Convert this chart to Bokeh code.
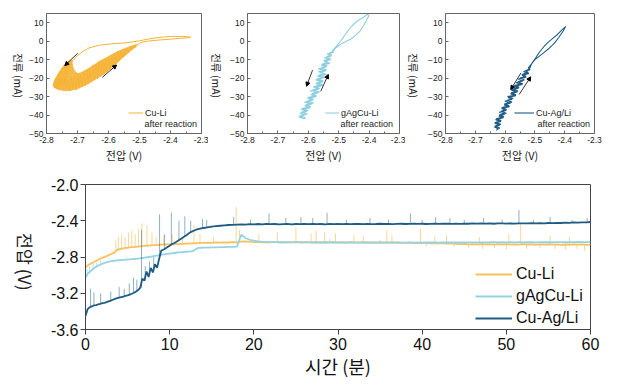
import numpy as np
from bokeh.plotting import figure
from bokeh.models import (Range1d, Label, Legend, LegendItem, Arrow, NormalHead,
                          FixedTicker, PrintfTickFormatter)
from bokeh.layouts import column, row
from bokeh.embed import file_html
from bokeh.resources import INLINE

NUM_FONT = "Liberation Sans"
KR_FONT = "Noto Sans CJK KR"

# ---------------- top panels: current vs voltage (after reaction) ----------------
cv_xticks = [-2.8, -2.7, -2.6, -2.5, -2.4, -2.3]
cv_xminor = [-2.75, -2.65, -2.55, -2.45, -2.35]
cv_yticks = [-50, -40, -30, -20, -10, 0, 10]

cu_li_v = [-2.335, -2.36, -2.40, -2.44, -2.47, -2.50, -2.54, -2.59, -2.63, -2.66, -2.68, -2.70, -2.715,
           -2.735, -2.716, -2.745, -2.72, -2.752, -2.722, -2.758, -2.726, -2.765, -2.73, -2.77, -2.735, -2.775, -2.745, -2.778, -2.76,
           -2.775, -2.77, -2.765, -2.76, -2.755, -2.75, -2.745, -2.74, -2.735, -2.73, -2.725, -2.72, -2.715, -2.71, -2.705, -2.70,
           -2.695, -2.69, -2.685, -2.68, -2.675, -2.67, -2.665, -2.66, -2.655, -2.65, -2.645, -2.64, -2.635, -2.63, -2.625, -2.62,
           -2.615, -2.61, -2.605, -2.60, -2.595, -2.59, -2.585, -2.58, -2.575, -2.57, -2.565, -2.56, -2.555, -2.55, -2.545, -2.54,
           -2.535, -2.53, -2.525, -2.52, -2.515, -2.51,
           -2.50, -2.49, -2.47, -2.44, -2.40, -2.37, -2.345, -2.335]
cu_li_i = [2.2, 2.6, 2.6, 2.0, 1.2, 0.2, -0.8, -1.4, -2.2, -3.5, -5.2, -7.8, -10.5,
           -11.5, -12.5, -13.5, -14.2, -15, -16, -16.8, -17.5, -18.5, -19.2, -20.5, -21, -22.5, -22.8, -24.2, -24.5,
           -25.2, -20, -26, -19, -25.5, -20.5, -26.5, -19.5, -26, -21, -26.8, -19.5, -25.8, -18.5, -26.3, -17.5,
           -25.2, -17.8, -24.6, -16.2, -24, -15.4, -23, -14.5, -22.2, -13.2, -21, -12.4, -20.2, -11, -19, -10.2,
           -18, -9.2, -16.8, -8.4, -15.2, -7.5, -13.8, -6.4, -12.2, -5.6, -10.6, -4.9, -9, -4.2, -7.6, -3.6,
           -6.2, -3.0, -4.8, -2.4, -3.6, -2.2,
           -1.2, -0.5, 0.1, 0.6, 1.1, 1.5, 1.9, 2.2]

# outline of the dense noisy region of the Cu-Li loop
cu_li_band_v = [-2.778, -2.77, -2.76, -2.75, -2.74, -2.73, -2.72, -2.71, -2.70, -2.69, -2.68, -2.67, -2.66, -2.65,
                -2.64, -2.63, -2.62, -2.61, -2.60, -2.59, -2.58, -2.57, -2.56, -2.55, -2.54, -2.53, -2.52, -2.51,
                -2.51, -2.52, -2.53, -2.54, -2.55, -2.56, -2.57, -2.58, -2.59, -2.60, -2.61, -2.62, -2.63, -2.64,
                -2.65, -2.66, -2.67, -2.68, -2.69, -2.70, -2.71, -2.715, -2.718, -2.716,
                -2.728, -2.74, -2.75, -2.758, -2.765, -2.772, -2.777]
cu_li_band_i = [-24.5, -25.5, -26.3, -26.5, -26.8, -26.8, -26.6, -26.2, -25.8, -25, -24.2, -23.4, -22.5, -21.4,
                -20.4, -19.4, -18.4, -17.2, -15.8, -14.4, -12.9, -11.4, -9.8, -8.3, -6.8, -5.3, -4.0, -2.8,
                -1.8, -2.3, -2.9, -3.5, -4.2, -4.9, -5.6, -6.4, -7.4, -8.3, -9.2, -10.1, -11, -12.2,
                -13.2, -14.4, -15.4, -16.3, -17.2, -17.6, -16, -14, -12, -10.5,
                -10.8, -12.5, -14.5, -16.5, -18.5, -20.5, -22.5]

gag_v = [-2.40, -2.405, -2.42, -2.44, -2.455, -2.468, -2.48, -2.492, -2.505, -2.515, -2.52,
         -2.517, -2.538, -2.524, -2.547, -2.527, -2.548, -2.529, -2.558, -2.541, -2.567, -2.542, -2.563, -2.540, -2.570,
         -2.552, -2.576, -2.551, -2.575, -2.551, -2.582, -2.565, -2.595, -2.568, -2.592, -2.573, -2.602, -2.585, -2.612,
         -2.588, -2.612, -2.593, -2.623, -2.604, -2.628, -2.610, -2.631, -2.614,
         -2.609, -2.629, -2.603, -2.624, -2.601, -2.622, -2.592, -2.609, -2.582, -2.605, -2.582, -2.602, -2.573, -2.589,
         -2.562, -2.587, -2.562, -2.583, -2.553, -2.573, -2.551, -2.573, -2.543, -2.567, -2.546, -2.567, -2.540, -2.559,
         -2.538, -2.556, -2.534, -2.549, -2.527, -2.540, -2.523, -2.531, -2.519,
         -2.512, -2.505, -2.49, -2.475, -2.46, -2.445, -2.43, -2.418, -2.408, -2.40]
gag_i = [14, 14.5, 12.8, 10.8, 8.5, 6, 3.2, 0.5, -2.2, -4, -5,
         -6, -7, -8, -9, -10, -11, -12, -13, -14, -15, -16, -17, -18, -19,
         -20, -21, -22, -23, -24, -25, -26, -27, -28, -29, -30, -31, -32, -33,
         -34, -35, -36, -37, -38, -39, -40, -41, -42,
         -41.5, -40.5, -39.5, -38.5, -37.5, -36.5, -35.5, -34.5, -33.5, -32.5, -31.5, -30.5, -29.5, -28.5,
         -27.5, -26.5, -25.5, -24.5, -23.5, -22.5, -21.5, -20.5, -19.5, -18.5, -17.5, -16.5, -15.5, -14.5,
         -13.5, -12.5, -11.5, -10.5, -9.5, -8.5, -7.5, -6.5, -5.5,
         -4.0, -3, -1.2, 0, 1.2, 3, 5.5, 8.5, 11.5, 14]

cuag_v = [-2.397, -2.41, -2.425, -2.44, -2.455, -2.47, -2.485, -2.497, -2.51, -2.522,
          -2.516, -2.538, -2.520, -2.543, -2.529, -2.556, -2.541, -2.563, -2.542, -2.569, -2.555, -2.579, -2.559, -2.582,
          -2.564, -2.590, -2.577, -2.601, -2.581, -2.603, -2.585, -2.612, -2.596, -2.620, -2.600, -2.621, -2.606, -2.632,
          -2.614, -2.635, -2.618, -2.636, -2.622, -2.630,
          -2.618, -2.634, -2.614, -2.634, -2.613, -2.630, -2.604, -2.620, -2.596, -2.614, -2.595, -2.611, -2.586, -2.603,
          -2.577, -2.593, -2.573, -2.592, -2.564, -2.580, -2.557, -2.575, -2.553, -2.569, -2.541, -2.558, -2.535, -2.550,
          -2.530, -2.544, -2.522, -2.532, -2.518,
          -2.512, -2.50, -2.488, -2.47, -2.452, -2.435, -2.42, -2.405, -2.397]
cuag_i = [7.9, 6, 3.5, 1.5, -0.5, -3, -6, -9, -12, -14.5,
          -15.5, -16.5, -17.5, -18.5, -19.5, -20.5, -21.5, -22.5, -23.5, -24.5, -25.5, -26.5, -27.5, -28.5,
          -29.5, -30.5, -31.5, -32.5, -33.5, -34.5, -35.5, -36.5, -37.5, -38.5, -39.5, -40.5, -41.5, -42.5,
          -43.5, -44.5, -45.5, -46.5, -47.5, -48.3,
          -47, -46, -45, -44, -43, -42, -41, -40, -39, -38, -37, -36, -35, -34,
          -33, -32, -31, -30, -29, -28, -27, -26, -25, -24, -23, -22, -21, -20,
          -19, -18, -17, -16, -15,
          -12.5, -10, -8.5, -6.2, -3.8, -1.2, 2, 5.5, 7.9]

# scan-direction arrows: (x_start, y_start, x_end, y_end)
arrows_cu_li = [(-2.699, -6.5, -2.741, -13.2), (-2.620, -19.6, -2.574, -12.9)]
arrows_gag = [(-2.586, -15.7, -2.606, -24.4), (-2.559, -27.1, -2.534, -18.0)]
arrows_cuag = [(-2.547, -17.2, -2.581, -26.2), (-2.553, -28.9, -2.514, -19.3)]

# ---------------- bottom panel: voltage vs time ----------------
time_min = np.concatenate([np.arange(0, 14, 0.25), np.arange(14, 60.01, 0.5)])

v_cu_li = [-2.915, -2.895, -2.88, -2.868, -2.855, -2.845, -2.83, -2.818, -2.81, -2.798, -2.79, -2.78, -2.77, -2.76, -2.745, -2.72,
           -2.715, -2.71, -2.705, -2.70, -2.70, -2.695, -2.69, -2.692, -2.688, -2.685, -2.683, -2.68, -2.678, -2.676, -2.675, -2.672,
           -2.670, -2.668, -2.668, -2.665, -2.663, -2.66, -2.662, -2.66, -2.66, -2.658, -2.66, -2.655, -2.657, -2.655, -2.653, -2.655,
           -2.652, -2.65, -2.652, -2.648, -2.65, -2.647, -2.648, -2.645,
           -2.645, -2.642, -2.644, -2.640, -2.642, -2.638, -2.640, -2.636, -2.638,
           -2.63, -2.628, -2.632, -2.635, -2.633, -2.637, -2.635, -2.638, -2.634, -2.637, -2.635, -2.638, -2.636, -2.634, -2.638, -2.636,
           -2.639, -2.635, -2.637, -2.64, -2.636, -2.638, -2.636, -2.639,
           -2.637, -2.64, -2.636, -2.638, -2.641, -2.637, -2.64, -2.638, -2.642, -2.639, -2.641, -2.638, -2.642, -2.64,
           -2.643, -2.645, -2.642, -2.646, -2.644, -2.648, -2.645, -2.649, -2.647, -2.65, -2.648, -2.652, -2.65, -2.654,
           -2.658, -2.655, -2.66, -2.657, -2.662, -2.658, -2.661, -2.657, -2.663, -2.659, -2.662, -2.658, -2.664, -2.66, -2.663, -2.659,
           -2.662, -2.66, -2.665, -2.661, -2.664, -2.66, -2.663, -2.661, -2.666, -2.662, -2.665, -2.661, -2.664, -2.662, -2.667, -2.664]

v_gag = [-3.03, -2.985, -2.965, -2.945, -2.925, -2.91, -2.895, -2.885, -2.875, -2.866, -2.858, -2.852, -2.848, -2.844, -2.841, -2.838,
         -2.836, -2.834, -2.832, -2.83, -2.828, -2.826, -2.824, -2.822, -2.82, -2.817, -2.814, -2.811, -2.808, -2.804, -2.80, -2.796,
         -2.792, -2.788, -2.784, -2.78, -2.776, -2.772, -2.768, -2.765, -2.762, -2.759, -2.756, -2.753, -2.75, -2.748, -2.746, -2.744,
         -2.742, -2.74, -2.738, -2.736, -2.72, -2.705, -2.70, -2.698,
         -2.697, -2.696, -2.694, -2.693, -2.692, -2.69, -2.689, -2.688, -2.686,
         -2.555, -2.59, -2.61, -2.62, -2.627, -2.631, -2.633, -2.635, -2.636, -2.637, -2.637, -2.638, -2.638, -2.639, -2.638, -2.639,
         -2.639, -2.64, -2.639, -2.64, -2.639, -2.64, -2.64, -2.641,
         -2.64, -2.641, -2.64, -2.641, -2.64, -2.642, -2.641, -2.64, -2.641, -2.64, -2.642, -2.641, -2.64, -2.641,
         -2.642, -2.641, -2.64, -2.641, -2.64, -2.641, -2.64, -2.639, -2.64, -2.641, -2.64, -2.639, -2.64, -2.64,
         -2.639, -2.64, -2.638, -2.639, -2.638, -2.64, -2.638, -2.639, -2.637, -2.638, -2.637, -2.639, -2.637, -2.638, -2.636, -2.638,
         -2.637, -2.636, -2.638, -2.636, -2.637, -2.635, -2.637, -2.636, -2.635, -2.637, -2.635, -2.636, -2.634, -2.636, -2.635, -2.634]

v_cuag = [-3.45, -3.375, -3.355, -3.345, -3.335, -3.33, -3.322, -3.318, -3.31, -3.305, -3.298, -3.29, -3.282, -3.272, -3.262, -3.255,
          -3.248, -3.242, -3.236, -3.23, -3.224, -3.215, -3.205, -3.195, -3.182, -3.165, -3.14, -3.04, -3.06, -2.96, -3.02, -2.92,
          -2.97, -2.88, -2.92, -2.82, -2.73, -2.72, -2.705, -2.69, -2.675, -2.66, -2.648, -2.635, -2.62, -2.605, -2.59, -2.575,
          -2.56, -2.54, -2.525, -2.515, -2.505, -2.495, -2.49, -2.485,
          -2.48, -2.472, -2.465, -2.46, -2.455, -2.45, -2.447, -2.445, -2.442,
          -2.44, -2.442, -2.438, -2.44, -2.436, -2.439, -2.435, -2.438, -2.436, -2.44, -2.437, -2.435, -2.439, -2.436, -2.438, -2.435,
          -2.437, -2.434, -2.438, -2.436, -2.439, -2.435, -2.437, -2.434,
          -2.437, -2.435, -2.438, -2.436, -2.434, -2.437, -2.435, -2.438, -2.436, -2.433, -2.436, -2.434, -2.437, -2.435,
          -2.433, -2.436, -2.434, -2.432, -2.435, -2.433, -2.436, -2.434, -2.432, -2.435, -2.433, -2.431, -2.434, -2.432,
          -2.434, -2.431, -2.433, -2.43, -2.432, -2.429, -2.432, -2.43, -2.433, -2.43, -2.428, -2.431, -2.429, -2.432, -2.43, -2.428,
          -2.43, -2.427, -2.429, -2.426, -2.428, -2.425, -2.427, -2.423, -2.425, -2.421, -2.423, -2.419, -2.421, -2.417, -2.418, -2.414]

# spikes / excursions: (time, from, to)
spikes_cu_li = [(3.6, -2.745, -2.62), (3.9, -2.72, -2.58), (4.3, -2.71, -2.55), (4.7, -2.70, -2.58), (5.1, -2.70, -2.53),
                (5.5, -2.69, -2.51), (5.9, -2.69, -2.55), (6.3, -2.685, -2.49), (6.7, -2.68, -2.43), (7.3, -2.676, -2.45),
                (7.9, -2.672, -2.53), (8.4, -2.668, -2.58), (9.3, -2.66, -2.56), (10.3, -2.658, -2.55), (11.5, -2.653, -2.58),
                (12.9, -2.648, -2.45), (13.6, -2.648, -2.55), (15.2, -2.642, -2.58), (17.9, -2.638, -2.25), (18.3, -2.63, -2.50),
                (20.6, -2.635, -2.55), (22.8, -2.636, -2.53), (25.0, -2.636, -2.47), (26.8, -2.637, -2.54), (27.4, -2.636, -2.51),
                (28.4, -2.636, -2.53), (29.7, -2.637, -2.54), (31.9, -2.64, -2.56), (33.0, -2.638, -2.57), (35.8, -2.64, -2.50),
                (36.4, -2.64, -2.56), (39.8, -2.641, -2.49), (41.5, -2.643, -2.57), (42.9, -2.648, -2.56), (46.8, -2.658, -2.58),
                (50.3, -2.66, -2.55), (51.7, -2.66, -2.43), (55.2, -2.662, -2.56), (57.5, -2.664, -2.58),
                (40.5, -2.64, -2.68), (43.8, -2.65, -2.69), (45.5, -2.66, -2.70), (47.2, -2.66, -2.71), (48.6, -2.66, -2.70),
                (50.0, -2.66, -2.72), (52.4, -2.66, -2.71), (54.0, -2.66, -2.70), (55.8, -2.66, -2.71), (57.0, -2.66, -2.72),
                (58.4, -2.66, -2.71), (59.3, -2.66, -2.73)]
spikes_gag = [(0.2, -3.0, -2.93), (0.5, -2.965, -2.90), (0.9, -2.93, -2.87), (1.3, -2.91, -2.86), (1.8, -2.885, -2.84),
              (29.0, -2.638, -2.60), (35.0, -2.64, -2.61)]
spikes_cuag = [(0.6, -3.355, -3.15), (1.0, -3.335, -3.19), (1.8, -3.318, -3.20), (3.0, -3.282, -3.18), (4.0, -3.248, -3.13),
               (4.6, -3.236, -3.15), (5.2, -3.215, -3.09), (5.7, -3.195, -3.03), (6.1, -3.18, -3.05), (6.65, -3.14, -2.50),
               (7.1, -3.06, -2.90), (7.6, -3.0, -2.85), (8.1, -2.95, -2.80), (8.8, -2.82, -2.33), (9.4, -2.70, -2.55),
               (10.2, -2.66, -2.31), (11.1, -2.62, -2.40), (11.8, -2.575, -2.35), (12.5, -2.525, -2.40), (13.9, -2.48, -2.38),
               (14.4, -2.475, -2.39), (17.6, -2.445, -2.36), (19.6, -2.44, -2.39), (21.8, -2.436, -2.32), (23.8, -2.437, -2.37),
               (25.6, -2.436, -2.36), (27.0, -2.436, -2.37), (28.7, -2.436, -2.31), (31.0, -2.436, -2.39), (33.8, -2.435, -2.37),
               (36.0, -2.435, -2.39), (38.6, -2.434, -2.32), (40.0, -2.434, -2.39), (41.6, -2.434, -2.36), (43.3, -2.433, -2.37),
               (45.0, -2.432, -2.39), (47.3, -2.431, -2.37), (49.5, -2.43, -2.39), (51.5, -2.43, -2.28), (53.2, -2.43, -2.39),
               (55.2, -2.428, -2.36), (57.8, -2.425, -2.39), (59.6, -2.418, -2.37)]

t_xticks = [0, 10, 20, 30, 40, 50, 60]
v_yticks = [-3.6, -3.2, -2.8, -2.4, -2.0]

assert len(v_cu_li) == len(time_min) == len(v_gag) == len(v_cuag)
assert len(gag_v) == len(gag_i) and len(cuag_v) == len(cuag_i) and len(cu_li_v) == len(cu_li_i)
assert len(cu_li_band_v) == len(cu_li_band_i)

C_OR = "#F5B335"
C_LB = "#8CCFE0"
C_DB = "#1F5C85"
TOP_H = 168
BOT_H = 214


def label_strip(width, height, x, y, text, size):
    """narrow empty canvas that carries a rotated axis title"""
    s = figure(width=width, height=height, output_backend="svg", toolbar_location=None,
               x_range=Range1d(0, width), y_range=Range1d(0, height),
               min_border_left=0, min_border_right=0, min_border_top=0, min_border_bottom=0)
    s.axis.visible = False
    s.grid.visible = False
    s.outline_line_color = None
    s.background_fill_color = None
    s.border_fill_color = None
    s.add_layout(Label(x=x, y=y, text=text, angle=-np.pi / 2, text_align="center",
                       text_baseline="middle", text_font=KR_FONT, text_font_size=size,
                       text_color="#222222"))
    return s


def small_panel(width, left, right, vs, cur, color, lw, name, arrows, leg_x, leg_gw, after_x):
    p = figure(width=width, height=TOP_H, output_backend="svg", toolbar_location=None,
               x_range=Range1d(-2.8, -2.3), y_range=Range1d(-50, 15),
               min_border_left=left, min_border_right=right, min_border_top=13, min_border_bottom=35)
    p.grid.visible = False
    p.outline_line_color = "#666666"
    p.background_fill_color = None
    p.border_fill_color = None
    r = p.line(vs, cur, line_color=color, line_width=lw)
    for ax in (p.xaxis[0], p.yaxis[0]):
        ax.major_label_text_font = NUM_FONT
        ax.major_label_text_font_size = "8.5px"
        ax.major_label_text_color = "#222222"
        ax.axis_line_color = "#666666"
        ax.major_tick_line_color = "#666666"
        ax.minor_tick_line_color = "#666666"
        ax.major_tick_in = 3
        ax.major_tick_out = 0
        ax.minor_tick_in = 2
        ax.minor_tick_out = 0
        ax.major_label_standoff = 3
    p.xaxis.ticker = FixedTicker(ticks=cv_xticks, minor_ticks=cv_xminor)
    p.xaxis.formatter = PrintfTickFormatter(format="%.1f")
    p.yaxis.ticker = FixedTicker(ticks=cv_yticks)
    p.xaxis.axis_label = "전압 (V)"
    p.xaxis.axis_label_text_font = KR_FONT
    p.xaxis.axis_label_text_font_style = "normal"
    p.xaxis.axis_label_text_font_size = "11px"
    p.xaxis.axis_label_text_color = "#222222"
    p.xaxis.axis_label_standoff = 1
    for (xs, ys, xe, ye) in arrows:
        p.add_layout(Arrow(x_start=xs, y_start=ys, x_end=xe, y_end=ye, line_width=0.8,
                           line_color="black",
                           end=NormalHead(size=4, fill_color="black", line_color="black")))
    leg = Legend(items=[LegendItem(label=name, renderers=[r])], location=(leg_x, 15),
                 padding=0, margin=0, spacing=0, label_standoff=2, glyph_width=leg_gw,
                 glyph_height=11, label_height=11, border_line_color=None,
                 background_fill_alpha=0, label_text_font=NUM_FONT, label_text_font_size="9px",
                 label_text_color="#222222")
    p.add_layout(leg)
    p.add_layout(Label(x=after_x, y=10, x_units="screen", y_units="screen", text="after reaction",
                       text_align="left", text_baseline="middle", text_font=NUM_FONT,
                       text_font_size="9px", text_color="#222222"))
    return p


lab1 = label_strip(26, TOP_H, 18, 81, "전류 (mA)", "10.5px")
p1 = small_panel(182, 19, 7, cu_li_v, cu_li_i, C_OR, 1.0, "Cu-Li", arrows_cu_li, 82, 15, 98)
p1.patch(cu_li_band_v, cu_li_band_i, fill_color=C_OR, fill_alpha=0.9, line_color=C_OR, line_width=0.8)
lab2 = label_strip(16, TOP_H, 8, 81, "전류 (mA)", "10.5px")
p2 = small_panel(181, 23, 6, gag_v, gag_i, C_LB, 1.1, "gAgCu-Li", arrows_gag, 78, 14, 93)
lab3 = label_strip(16, TOP_H, 8, 81, "전류 (mA)", "10.5px")
p3 = small_panel(182, 24, 9, cuag_v, cuag_i, C_DB, 1.1, "Cu-Ag/Li", arrows_cuag, 69, 20, 92)

# ---------------- bottom figure ----------------
p4 = figure(width=562, height=BOT_H, output_backend="svg", toolbar_location=None,
            x_range=Range1d(0, 60), y_range=Range1d(-3.6, -2.0),
            min_border_left=45, min_border_right=12, min_border_top=16, min_border_bottom=53)
p4.grid.visible = False
p4.outline_line_color = "#444444"
p4.background_fill_color = None
p4.border_fill_color = None

BO, BL, BD = "#F8C260", "#94D3E3", "#1F5C85"


def spikes(p, sp, color, alpha):
    p.segment(x0=[s[0] for s in sp], y0=[s[1] for s in sp], x1=[s[0] for s in sp], y1=[s[2] for s in sp],
              line_color=color, line_width=0.9, line_alpha=alpha)


spikes(p4, spikes_cu_li, BO, 0.75)
r_or = p4.line(time_min, v_cu_li, line_color=BO, line_width=1.8)
spikes(p4, spikes_gag, BL, 0.7)
r_lb = p4.line(time_min, v_gag, line_color=BL, line_width=1.8)
spikes(p4, spikes_cuag, BD, 0.55)
r_db = p4.line(time_min, v_cuag, line_color=BD, line_width=1.8)

for ax in (p4.xaxis[0], p4.yaxis[0]):
    ax.major_label_text_font = NUM_FONT
    ax.major_label_text_font_size = "16px"
    ax.major_label_text_color = "#111111"
    ax.axis_line_color = "#444444"
    ax.major_tick_line_color = "#444444"
    ax.major_tick_in = 0
    ax.major_tick_out = 5
    ax.minor_tick_line_color = None
p4.xaxis.major_label_standoff = 3
p4.yaxis.major_label_standoff = 2
p4.xaxis.ticker = FixedTicker(ticks=t_xticks)
p4.yaxis.ticker = FixedTicker(ticks=v_yticks)
p4.yaxis.formatter = PrintfTickFormatter(format="%.1f")
p4.xaxis.axis_label = "시간 (분)"
p4.xaxis.axis_label_text_font = KR_FONT
p4.xaxis.axis_label_text_font_style = "normal"
p4.xaxis.axis_label_text_font_size = "18px"
p4.xaxis.axis_label_text_color = "#111111"
p4.xaxis.axis_label_standoff = 0
leg4 = Legend(items=[LegendItem(label="Cu-Li", renderers=[r_or]),
                     LegendItem(label="gAgCu-Li", renderers=[r_lb]),
                     LegendItem(label="Cu-Ag/Li", renderers=[r_db])],
              location=(390, 1), padding=0, margin=0, spacing=2, label_standoff=4,
              glyph_width=37, glyph_height=20, label_height=20, border_line_color=None,
              background_fill_alpha=0, label_text_font=NUM_FONT, label_text_font_size="16px",
              label_text_color="#111111")
p4.add_layout(leg4)
lab4 = label_strip(40, BOT_H, 25, 100, "전압 (V)", "17.5px")

layout = column(row(lab1, p1, lab2, p2, lab3, p3), row(lab4, p4))
open("out.html", "w").write(file_html(layout, INLINE))
